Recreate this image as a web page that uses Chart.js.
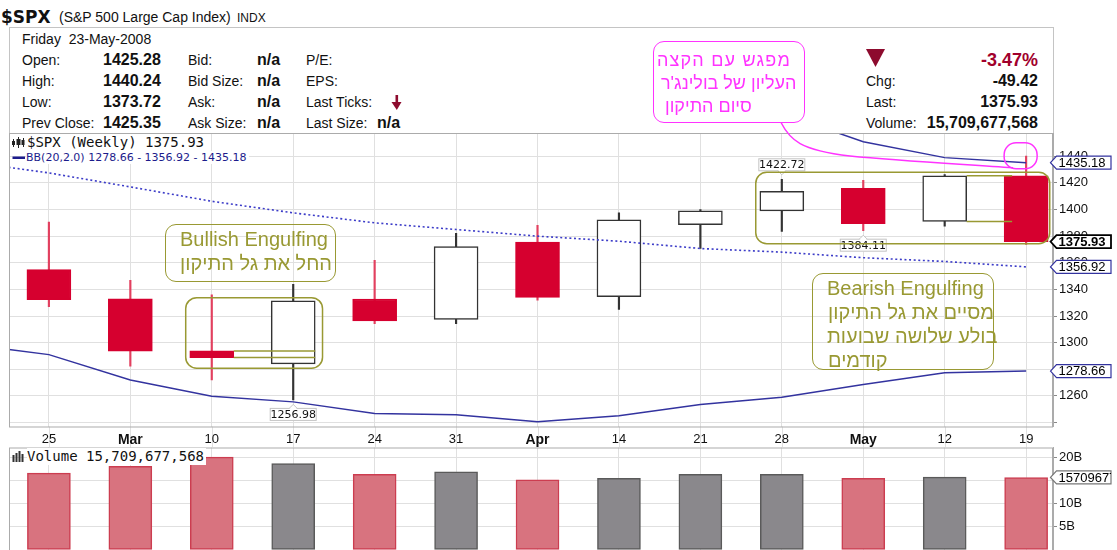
<!DOCTYPE html>
<html>
<head>
<meta charset="utf-8">
<script src="https://cdn.jsdelivr.net/npm/chart.js@4.4.0/dist/chart.umd.min.js"></script>
<style>
  html, body { margin: 0; padding: 0; background: #fff; overflow: hidden; }
  body { width: 1117px; height: 550px; position: relative; font-family: "Liberation Sans", Arial, sans-serif; color: #111; }
  .abs { position: absolute; white-space: nowrap; line-height: 20px; z-index: 0; }
  .lbl { font-size: 14px; }
  .val { font-size: 16px; font-weight: bold; }
  .rt { text-align: right; }
  #infoBox { position: absolute; left: 9px; top: 27px; width: 1045px; height: 107px; border: 1px solid #c4c4c4; border-bottom: none; box-sizing: border-box; }
  #priceChart { position: absolute; left: 0; top: 0; z-index: 1; }
  #volumeChart { position: absolute; left: 0; top: 447px; z-index: 1; }
  .over { position: absolute; z-index: 2; white-space: nowrap; }
  .legend { background: #fff; font-family: "DejaVu Sans Mono", monospace; font-size: 14px; line-height: 17px; color: #111; }
  .box { border-radius: 11px; box-sizing: border-box; }
  .olive { color: #999933; border: 1.5px solid #999933; }
  .note { font-size: 20px; line-height: 24px; color: #999933; }
  .pink { font-size: 18px; line-height: 23px; color: #ff33ff; }
</style>
</head>
<body>
<!-- quote header -->
<div class="abs" style="left:1px;top:7px;font:bold 17px 'DejaVu Sans';">$SPX</div>
<div class="abs" style="left:59px;top:7px;font-size:14px;">(S&amp;P 500 Large Cap Index)</div>
<div class="abs" style="left:237px;top:8px;font-size:12px;">INDX</div>
<div id="infoBox"></div>
<div class="abs lbl" style="left:22px;top:29px;">Friday&nbsp; 23-May-2008</div>

<div class="abs lbl" style="left:22px;top:50px;">Open:</div>
<div class="abs lbl" style="left:22px;top:71px;">High:</div>
<div class="abs lbl" style="left:22px;top:91.5px;">Low:</div>
<div class="abs lbl" style="left:22px;top:113px;">Prev Close:</div>
<div class="abs val" style="left:103px;top:50px;">1425.28</div>
<div class="abs val" style="left:103px;top:71px;">1440.24</div>
<div class="abs val" style="left:103px;top:91.5px;">1373.72</div>
<div class="abs val" style="left:103px;top:113px;">1425.35</div>

<div class="abs lbl" style="left:188px;top:50px;">Bid:</div>
<div class="abs lbl" style="left:188px;top:71px;">Bid Size:</div>
<div class="abs lbl" style="left:188px;top:91.5px;">Ask:</div>
<div class="abs lbl" style="left:188px;top:113px;">Ask Size:</div>
<div class="abs val" style="left:257px;top:50px;">n/a</div>
<div class="abs val" style="left:257px;top:71px;">n/a</div>
<div class="abs val" style="left:257px;top:91.5px;">n/a</div>
<div class="abs val" style="left:257px;top:113px;">n/a</div>

<div class="abs lbl" style="left:306px;top:50px;">P/E:</div>
<div class="abs lbl" style="left:306px;top:71px;">EPS:</div>
<div class="abs lbl" style="left:306px;top:91.5px;">Last Ticks:</div>
<div class="abs lbl" style="left:306px;top:113px;">Last Size:</div>
<div class="abs val" style="left:377px;top:113px;">n/a</div>

<div class="abs rt" style="right:79px;top:50px;font-size:18px;font-weight:bold;color:#a1002c;">-3.47%</div>
<div class="abs lbl" style="left:866px;top:70.5px;">Chg:</div>
<div class="abs lbl" style="left:866px;top:91.5px;">Last:</div>
<div class="abs lbl" style="left:866px;top:113px;">Volume:</div>
<div class="abs val rt" style="right:79px;top:70.5px;">-49.42</div>
<div class="abs val rt" style="right:79px;top:91.5px;">1375.93</div>
<div class="abs val rt" style="right:79px;top:113px;">15,709,677,568</div>

<canvas id="priceChart" width="1117" height="447"></canvas>
<canvas id="volumeChart" width="1117" height="103"></canvas>

<!-- panel legends -->
<div class="over legend" style="left:27px;top:134px;padding-right:2px;">$SPX (Weekly) 1375.93</div>
<div class="over legend" style="left:26px;top:151px;font-family:'DejaVu Sans';font-size:11px;line-height:13px;color:#1c1c8c;padding-right:2px;">BB(20,2.0) 1278.66 - 1356.92 - 1435.18</div>
<div class="over legend" style="left:27px;top:448px;padding-right:2px;">Volume 15,709,677,568</div>

<!-- notes -->
<div class="over box" style="left:653px;top:41px;width:152px;height:82px;border:1.5px solid #ff33ff;"></div>
<div class="over pink" style="right:326px;top:48.5px;letter-spacing:1.2px;">מפגש עם הקצה</div>
<div class="over pink" style="left:661px;top:71.5px;">העליון של בולינג'ר</div>
<div class="over pink" style="left:665px;top:94.5px;">סיום התיקון</div>

<div class="over box olive" style="left:165px;top:224px;width:171px;height:58px;"></div>
<div class="over note" style="left:180px;top:228px;line-height:23.5px;">Bullish Engulfing</div>
<div class="over note" style="left:180px;top:251.5px;line-height:23.5px;">החל את גל התיקון</div>

<div class="over box olive" style="left:812px;top:273px;width:182px;height:97px;"></div>
<div class="over note" style="left:827px;top:276px;">Bearish Engulfing</div>
<div class="over note" style="left:828px;top:300px;">מסיים את גל התיקון</div>
<div class="over note" style="left:827px;top:324px;">בולע שלושה שבועות</div>
<div class="over note" style="left:828px;top:348px;">קודמים</div>

<script>
// weekly $SPX, 25 Feb - 19 May 2008
const weeks = ['25', 'Mar', '10', '17', '24', '31', 'Apr', '14', '21', '28', 'May', '12', '19'];
const opens  = [1354.8, 1333.0, 1293.8, 1284.0, 1332.8, 1317.5, 1375.5, 1334.5, 1388.7, 1399.0, 1416.0, 1391.0, 1425.28];
const highs  = [1390.5, 1346.8, 1336.0, 1343.8, 1361.8, 1382.2, 1388.2, 1397.5, 1400.0, 1422.72, 1422.0, 1426.2, 1440.24];
const lows   = [1327.0, 1282.3, 1272.0, 1256.98, 1314.3, 1314.3, 1332.0, 1325.0, 1370.7, 1383.5, 1384.11, 1387.5, 1373.72];
const closes = [1332.3, 1293.5, 1288.8, 1331.5, 1316.3, 1372.2, 1334.0, 1392.3, 1399.0, 1413.7, 1389.3, 1425.35, 1375.93];
// volume in billions of shares
const volumes = [16.65, 18.1, 20.1, 18.7, 16.4, 16.95, 15.2, 15.5, 16.4, 16.4, 15.5, 15.8, 15.709677568];

// Bollinger bands (20,2) - these start a week earlier (18 Feb) so they run in from the left edge
const bbLower  = [1299, 1291.0, 1272.0, 1259.8, 1255.5, 1246.8, 1245.8, 1240.5, 1245.0, 1253.6, 1259.0, 1268.6, 1277.3, 1278.66];
const bbMiddle = [1436, 1427.5, 1417.0, 1406.2, 1397.5, 1390.0, 1385.0, 1380.0, 1376.2, 1370.7, 1368.0, 1363.8, 1361.0, 1356.92];
const bbUpper  = [1573, 1564, 1562, 1553, 1540, 1533, 1524, 1520, 1507, 1488, 1472, 1451, 1439, 1435.18];

const RED = '#d6002f';
const RED_WICK = '#e2405f';
const OLIVE = '#999933';
const PINK = '#ff33ff';
const BLUE = '#33339f';
const GRID = '#e0e0e0';
const FONT = '"Liberation Sans", Arial, sans-serif';

Chart.defaults.font.family = FONT;
Chart.defaults.font.size = 13;
Chart.defaults.color = '#111';

const isUp = i => closes[i] >= opens[i];
const last = weeks.length - 1;

function roundRectPath(ctx, x, y, w, h, r) {
    ctx.beginPath();
    ctx.moveTo(x + r, y);
    ctx.arcTo(x + w, y, x + w, y + h, r);
    ctx.arcTo(x + w, y + h, x, y + h, r);
    ctx.arcTo(x, y + h, x, y, r);
    ctx.arcTo(x, y, x + w, y, r);
    ctx.closePath();
}

// price tag on the right axis
function drawTag(ctx, left, yc, text, color, bold, lineW) {
    const h = 13, right = 1111;
    ctx.save();
    ctx.beginPath();
    ctx.moveTo(left, yc);
    ctx.lineTo(left + 6, yc - h / 2);
    ctx.lineTo(right, yc - h / 2);
    ctx.lineTo(right, yc + h / 2);
    ctx.lineTo(left + 6, yc + h / 2);
    ctx.closePath();
    ctx.fillStyle = '#fff';
    ctx.fill();
    ctx.lineWidth = lineW;
    ctx.strokeStyle = color;
    ctx.stroke();
    ctx.clip();
    ctx.fillStyle = '#000';
    ctx.font = (bold ? 'bold ' : '') + '13px ' + FONT;
    ctx.textAlign = 'left';
    ctx.textBaseline = 'middle';
    ctx.fillText(text, left + 8, yc + 0.5);
    ctx.restore();
}

// little white value box with a pointer
function valueLabel(ctx, cx, py, text, below) {
    const w = 47, h = 13;
    const top = below ? py + 8 : py - 8 - h;
    ctx.save();
    ctx.fillStyle = '#fff';
    ctx.strokeStyle = '#c4c4c4';
    ctx.lineWidth = 1;
    ctx.fillRect(cx - w / 2, top, w, h);
    ctx.strokeRect(cx - w / 2 + 0.5, top + 0.5, w - 1, h - 1);
    const edge = below ? top + 0.5 : top + h - 0.5;
    ctx.beginPath();
    ctx.moveTo(cx - 4, edge);
    ctx.lineTo(cx, below ? edge - 4 : edge + 4);
    ctx.lineTo(cx + 4, edge);
    ctx.fill();
    ctx.stroke();
    ctx.fillRect(cx - 3, below ? edge - 0.5 : edge - 1, 6, 1.5);
    ctx.fillStyle = '#111';
    ctx.font = '11px "DejaVu Sans"';
    ctx.textAlign = 'center';
    ctx.textBaseline = 'middle';
    ctx.fillText(text, cx, top + h / 2 + 0.5);
    ctx.restore();
}

function drawGapGrid(chart) {
    const {ctx, chartArea, scales: {x}} = chart;
    ctx.save();
    ctx.strokeStyle = GRID;
    ctx.lineWidth = 1;
    weeks.forEach((w, i) => {
        const px = Math.round(x.getPixelForValue(i)) + 0.5;
        ctx.beginPath();
        ctx.moveTo(px, chartArea.bottom);
        ctx.lineTo(px, chart.height);
        ctx.stroke();
    });
    ctx.restore();
}

function drawFrame(chart) {
    const {ctx, chartArea: a} = chart;
    ctx.save();
    ctx.strokeStyle = '#ababab';
    ctx.lineWidth = 1;
    ctx.strokeRect(a.left + 0.5, a.top + 0.5, a.right - a.left - 1, a.bottom - a.top);
    ctx.restore();
}

const priceDecor = {
    id: 'priceDecor',
    beforeDraw(chart) {
        drawGapGrid(chart);
    },
    afterDatasetsDraw(chart) {
        const {ctx, scales: {x, y}} = chart;
        const half = 22;
        ctx.save();

        // engulfing guide lines
        ctx.strokeStyle = OLIVE;
        ctx.lineWidth = 1.5;
        [opens[2], closes[2]].forEach(v => {
            ctx.beginPath();
            ctx.moveTo(x.getPixelForValue(2) + half, y.getPixelForValue(v));
            ctx.lineTo(x.getPixelForValue(3) + half, y.getPixelForValue(v));
            ctx.stroke();
        });
        [opens[11], closes[11]].forEach(v => {
            ctx.beginPath();
            ctx.moveTo(x.getPixelForValue(11) + half, y.getPixelForValue(v));
            ctx.lineTo(x.getPixelForValue(12) - 14, y.getPixelForValue(v));
            ctx.stroke();
        });

        // high / low labels
        valueLabel(ctx, x.getPixelForValue(9), y.getPixelForValue(highs[9]), highs[9].toFixed(2), false);
        valueLabel(ctx, x.getPixelForValue(3), y.getPixelForValue(lows[3]), lows[3].toFixed(2), true);
        valueLabel(ctx, x.getPixelForValue(10), y.getPixelForValue(lows[10]), lows[10].toFixed(2), true);

        // pattern boxes (x in weeks, y in index points)
        const patterns = [
            {x0: 1.68, x1: 3.36, y0: 1333.8, y1: 1280.8},
            {x0: 8.68, x1: 12.29, y0: 1428.0, y1: 1374.3}
        ];
        ctx.strokeStyle = OLIVE;
        ctx.lineWidth = 1.5;
        patterns.forEach(p => {
            const l = x.getPixelForValue(p.x0), r = x.getPixelForValue(p.x1);
            const t = y.getPixelForValue(p.y0), b = y.getPixelForValue(p.y1);
            roundRectPath(ctx, l, t, r - l, b - t, 11);
            ctx.stroke();
        });
        ctx.restore();
    },
    afterDraw(chart) {
        const {ctx, chartArea: a, scales: {x, y}} = chart;
        drawFrame(chart);
        ctx.save();

        // header marks: change triangle and last tick arrow
        ctx.fillStyle = '#8d0b2e';
        ctx.beginPath();
        ctx.moveTo(866, 49); ctx.lineTo(885, 49); ctx.lineTo(875.5, 67);
        ctx.closePath(); ctx.fill();
        ctx.fillRect(395.5, 95, 2.6, 8);
        ctx.beginPath();
        ctx.moveTo(391.5, 102); ctx.lineTo(401.5, 102); ctx.lineTo(396.8, 110);
        ctx.closePath(); ctx.fill();

        // legend icons
        ctx.fillStyle = '#222';
        ctx.fillRect(13, 139, 1, 8); ctx.fillRect(12, 141, 3, 4);
        ctx.fillRect(18, 137, 1, 11); ctx.fillRect(16.5, 139, 4, 6);
        ctx.fillRect(23, 138, 1, 9); ctx.fillRect(21.5, 140, 3, 5);
        ctx.fillStyle = '#1c1c8c';
        ctx.fillRect(12.5, 156.5, 12.5, 2.5);

        // pink callout: connector and circle at the upper band
        const ux = x.getPixelForValue(last), uy = y.getPixelForValue(bbUpper[bbUpper.length - 1]);
        ctx.strokeStyle = PINK;
        ctx.lineWidth = 1.5;
        ctx.beginPath();
        ctx.moveTo(781, 122.5);
        ctx.bezierCurveTo(790, 140, 800, 150, 850, 156);
        ctx.bezierCurveTo(900, 161, 960, 164, ux - 13, uy + 5);
        ctx.stroke();
        roundRectPath(ctx, ux - 22, uy - 20, 33, 26, 12);
        ctx.stroke();

        // right side tags
        const tagLeft = a.right - 2.5;
        drawTag(ctx, tagLeft, y.getPixelForValue(bbUpper[bbUpper.length - 1]), bbUpper[bbUpper.length - 1].toFixed(2), BLUE, false, 1.2);
        drawTag(ctx, tagLeft, y.getPixelForValue(closes[last]), closes[last].toFixed(2), '#000', true, 1.8);
        drawTag(ctx, tagLeft, y.getPixelForValue(bbMiddle[bbMiddle.length - 1]), bbMiddle[bbMiddle.length - 1].toFixed(2), BLUE, false, 1.2);
        drawTag(ctx, tagLeft, y.getPixelForValue(bbLower[bbLower.length - 1]), bbLower[bbLower.length - 1].toFixed(2), BLUE, false, 1.2);
        ctx.restore();
    }
};

const volumeDecor = {
    id: 'volumeDecor',
    afterDraw(chart) {
        const {ctx, chartArea: a, scales: {y}} = chart;
        drawFrame(chart);
        ctx.save();
        ctx.fillStyle = '#333';
        [[12.5, 7], [15.5, 9], [18.5, 11], [21.5, 8]].forEach(([bx, bh]) => ctx.fillRect(bx, 15 - bh, 2, bh));
        const v = volumes[last];
        drawTag(ctx, a.right - 2.5, y.getPixelForValue(v), Math.round(v * 1e9).toString(), '#777', false, 1.2);
        ctx.restore();
    }
};

const xBase = {
    type: 'linear',
    min: -0.49,
    max: 12.33,
    offset: false,
    border: { display: false },
    grid: { offset: false, color: GRID, drawTicks: false }
};

const bandLine = (values, extra) => Object.assign({
    type: 'line',
    data: values.map((v, k) => ({ x: k - 1, y: v })),
    borderColor: BLUE,
    borderWidth: 1.5,
    pointRadius: 0,
    tension: 0,
    order: 0
}, extra);

new Chart(document.getElementById('priceChart'), {
    type: 'bar',
    data: {
        datasets: [
            bandLine(bbUpper, { label: 'BB upper' }),
            bandLine(bbMiddle, { label: 'BB middle', borderColor: '#3c3cc8', borderDash: [2, 2.6], borderWidth: 1.6 }),
            bandLine(bbLower, { label: 'BB lower' }),
            {
                label: 'Body',
                data: weeks.map((w, i) => ({ x: i, y: [opens[i], closes[i]] })),
                backgroundColor: weeks.map((w, i) => isUp(i) ? '#fff' : RED),
                borderColor: weeks.map((w, i) => isUp(i) ? '#333' : RED),
                borderWidth: 1.5,
                borderSkipped: false,
                barThickness: 44,
                grouped: false,
                order: 1
            },
            {
                label: 'Wick',
                data: weeks.map((w, i) => ({ x: i, y: [lows[i], highs[i]] })),
                backgroundColor: weeks.map((w, i) => isUp(i) ? '#333' : RED_WICK),
                borderWidth: 0,
                barThickness: 1.5,
                grouped: false,
                order: 2
            }
        ]
    },
    options: {
        responsive: false,
        animation: false,
        devicePixelRatio: 1,
        layout: { padding: { top: 133, left: 9, right: 0, bottom: 0 } },
        plugins: { legend: { display: false }, tooltip: { enabled: false } },
        scales: {
            x: Object.assign({}, xBase, {
                ticks: {
                    stepSize: 1,
                    includeBounds: false,
                    autoSkip: false,
                    maxRotation: 0,
                    padding: 5,
                    color: '#111',
                    callback: v => weeks[v] ?? '',
                    font: c => {
                        const bold = c.tick && ['Mar', 'Apr', 'May'].includes(weeks[c.tick.value]);
                        return { family: FONT, size: bold ? 14 : 13, weight: bold ? 'bold' : 'normal' };
                    }
                },
                afterFit: s => { s.height = 20.5; }
            }),
            y: {
                position: 'right',
                min: 1237,
                max: 1457.5,
                border: { color: '#ababab' },
                grid: { color: GRID, tickLength: 4, tickColor: '#888' },
                ticks: {
                    stepSize: 20,
                    includeBounds: false,
                    autoSkip: false,
                    padding: 2,
                    color: '#111',
                    font: { size: 13 },
                    callback: v => v >= 1260 ? v : ''
                },
                afterFit: s => { s.width = 64; }
            }
        }
    },
    plugins: [priceDecor]
});

new Chart(document.getElementById('volumeChart'), {
    type: 'bar',
    data: {
        datasets: [{
            label: 'Volume',
            data: weeks.map((w, i) => ({ x: i, y: volumes[i] })),
            backgroundColor: weeks.map((w, i) => isUp(i) ? '#8a888c' : '#d8737f'),
            borderColor: weeks.map((w, i) => isUp(i) ? '#5a5a5a' : '#cc3d50'),
            borderWidth: 1.5,
            borderSkipped: false,
            barThickness: 43,
            grouped: false
        }]
    },
    options: {
        responsive: false,
        animation: false,
        devicePixelRatio: 1,
        layout: { padding: { top: 0.5, left: 9, right: 0, bottom: 0 } },
        plugins: { legend: { display: false }, tooltip: { enabled: false } },
        scales: {
            x: Object.assign({}, xBase, {
                ticks: { display: false, stepSize: 1, includeBounds: false },
                afterFit: s => { s.height = 0; }
            }),
            y: {
                position: 'right',
                min: 0,
                max: 22.2,
                border: { color: '#ababab' },
                grid: { color: GRID, tickLength: 4, tickColor: '#888' },
                ticks: {
                    stepSize: 5,
                    includeBounds: false,
                    autoSkip: false,
                    padding: 2,
                    color: '#111',
                    font: { size: 13 },
                    callback: v => v > 0 ? v + 'B' : ''
                },
                // keep the plot flush with the panel edges
                afterFit: s => { s.width = 64; s.paddingTop = 0; s.paddingBottom = 0; }
            }
        }
    },
    plugins: [volumeDecor]
});
</script>
</body>
</html>
